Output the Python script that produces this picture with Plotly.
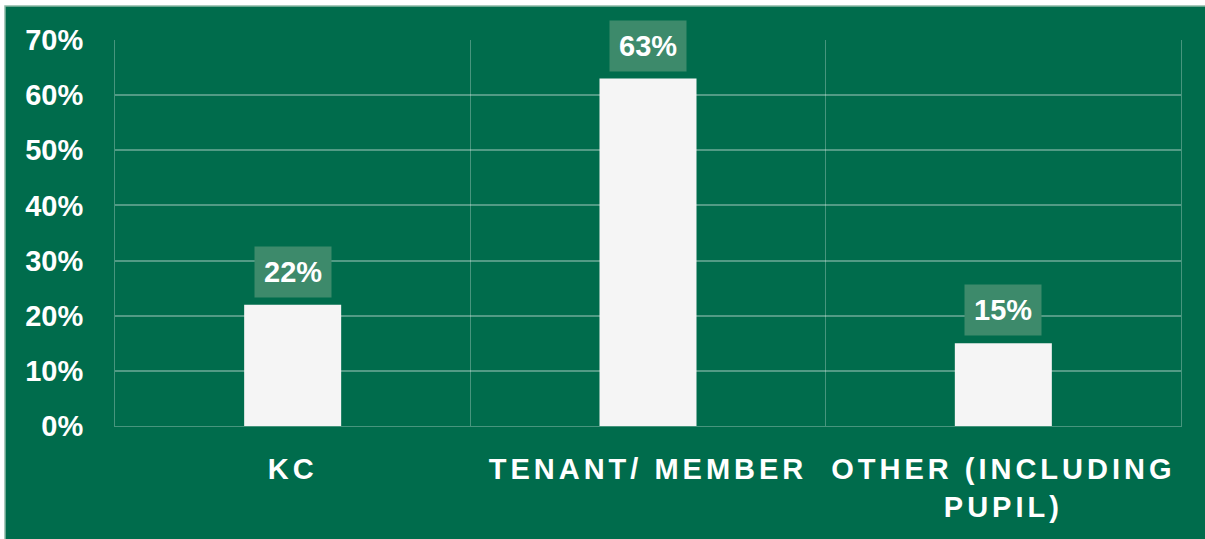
import plotly.graph_objects as go

categories = ["KC", "TENANT/ MEMBER", "OTHER (INCLUDING<br>PUPIL)"]
shares = [0.22, 0.63, 0.15]
share_labels = ["22%", "63%", "15%"]

GREEN = "#006C4C"
BAR = "#F5F5F5"
GRID = "rgba(255,255,255,0.28)"
LABEL_BOX = "#3D8A6B"
FONT = "Liberation Sans, Arial, sans-serif"
FS = 29


def spaced(label, px=4):
    # letter-spaced category labels, one span per line
    return "<br>".join(
        f'<span style="letter-spacing:{px}px">{part}</span>' for part in label.split("<br>")
    )


W, H = 1205, 539
L, R, T, B = 115, 24, 40, 113
pw, ph = W - L - R, H - T - B

fig = go.Figure()
fig.add_trace(
    go.Bar(
        x=categories,
        y=shares,
        marker={"color": BAR, "line": {"width": 0}},
        width=0.273,
        hoverinfo="skip",
    )
)

for cat, val, txt in zip(categories, shares, share_labels):
    fig.add_annotation(
        x=cat,
        y=val,
        text=txt,
        showarrow=False,
        yanchor="bottom",
        yshift=7,
        bgcolor=LABEL_BOX,
        borderpad=9,
        font={"family": FONT, "size": FS, "color": "white", "weight": "bold"},
    )

# green card with a thin light frame behind everything
fig.add_shape(
    type="rect",
    xref="paper",
    yref="paper",
    x0=(5 - L) / pw,
    x1=(W + 5 - L) / pw,
    y0=(H - B - (H + 5)) / ph,
    y1=(H - B - 6) / ph,
    fillcolor=GREEN,
    line={"color": "#8DB9A7", "width": 1.5},
    layer="below",
)

fig.update_layout(
    width=W,
    height=H,
    margin={"l": L, "r": R, "t": T, "b": B},
    paper_bgcolor="white",
    plot_bgcolor="rgba(0,0,0,0)",
    showlegend=False,
    bargap=0.727,
    font={"family": FONT, "color": "white"},
)
fig.update_xaxes(
    tickvals=categories,
    ticktext=[spaced(c) for c in categories],
    tickfont={"family": FONT, "size": FS, "color": "white", "weight": "bold"},
    tickson="boundaries",
    showgrid=True,
    gridcolor=GRID,
    gridwidth=1,
    showline=True,
    linecolor=GRID,
    linewidth=1,
    ticks="",
    ticklabelstandoff=17,
)
fig.update_yaxes(
    range=[0, 0.7],
    dtick=0.1,
    tickformat=".0%",
    tickfont={"family": FONT, "size": FS, "color": "white", "weight": "bold"},
    showgrid=True,
    gridcolor="rgba(255,255,255,0.32)",
    gridwidth=2,
    showline=True,
    mirror=True,
    linecolor=GRID,
    linewidth=1,
    zeroline=False,
    ticks="",
    ticklabelstandoff=25,
)

fig.write_html(
    "out.html",
    config={"displayModeBar": False},
    post_script="document.body.style.margin='0';",
)
